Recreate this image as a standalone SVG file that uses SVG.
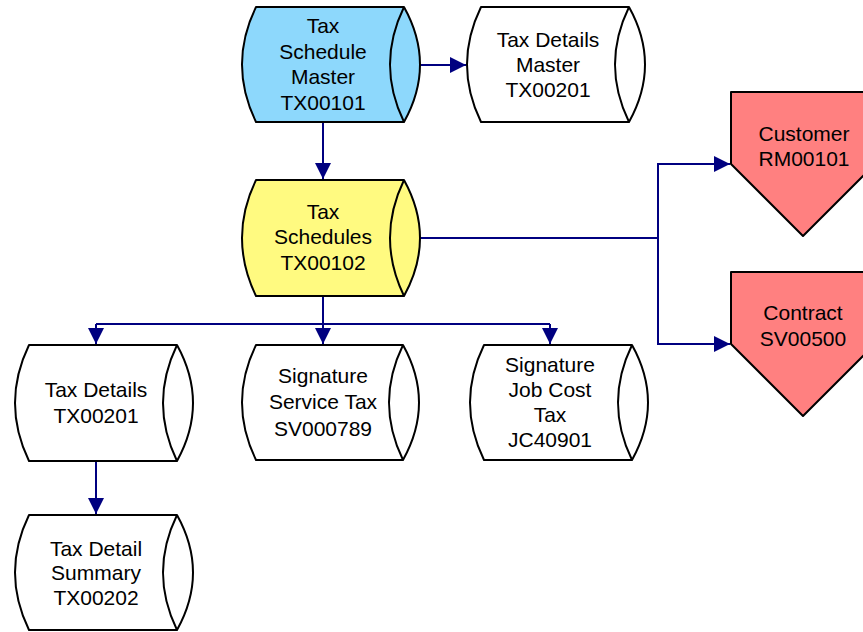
<svg xmlns="http://www.w3.org/2000/svg" width="863" height="632" viewBox="0 0 863 632">
<style>
.n{stroke:#000;stroke-width:2;stroke-linejoin:round}
.w{fill:#fff}
.b{fill:#8DD8FC}
.y{fill:#FFFA80}
.r{fill:#FF8080}
.in{fill:none;stroke:#000;stroke-width:2}
.t{font-family:"Liberation Sans",Arial,sans-serif;font-size:21px;fill:#000;text-anchor:middle}
.c{fill:none;stroke:#000080;stroke-width:2}
</style>
<defs>
<marker id="ah" markerUnits="userSpaceOnUse" markerWidth="16" markerHeight="16" viewBox="0 0 14 14" refX="14" refY="7" orient="auto">
<path d="M0,0 L14,7 L0,14 Z" fill="#000080"/>
</marker>
</defs>
<g id="connectors">
<path class="c" d="M420,65 H466" marker-end="url(#ah)"/>
<path class="c" d="M323,122 V179" marker-end="url(#ah)"/>
<path class="c" d="M323,296 V324"/>
<path class="c" d="M96,324 H550"/>
<path class="c" d="M96,324 V344" marker-end="url(#ah)"/>
<path class="c" d="M323,324 V344" marker-end="url(#ah)"/>
<path class="c" d="M550,324 V344" marker-end="url(#ah)"/>
<path class="c" d="M420,238 H658 V164 H730" marker-end="url(#ah)"/>
<path class="c" d="M658,238 V344 H730" marker-end="url(#ah)"/>
<path class="c" d="M96,461 V514" marker-end="url(#ah)"/>
</g>
<g id="taxScheduleMaster">
<path class="n b" d="M256,7 H404 Q436,64.5 404,122 H256 Q228,64.5 256,7 Z"/>
<path class="in" d="M404,7 Q376,64.5 404,122"/>
<text class="t"><tspan x="323" y="33">Tax</tspan><tspan x="323" y="59">Schedule</tspan><tspan x="323" y="84">Master</tspan><tspan x="323" y="110">TX00101</tspan></text>
</g>
<g id="taxDetailsMaster">
<path class="n w" d="M481,7 H629 Q661,64.5 629,122 H481 Q453,64.5 481,7 Z"/>
<path class="in" d="M629,7 Q601,64.5 629,122"/>
<text class="t"><tspan x="548" y="47">Tax Details</tspan><tspan x="548" y="72">Master</tspan><tspan x="548" y="97">TX00201</tspan></text>
</g>
<g id="taxSchedules">
<path class="n y" d="M256,180 H404 Q436,238 404,296 H256 Q228,238 256,180 Z"/>
<path class="in" d="M404,180 Q376,238 404,296"/>
<text class="t"><tspan x="323" y="219">Tax</tspan><tspan x="323" y="244">Schedules</tspan><tspan x="323" y="270">TX00102</tspan></text>
</g>
<g id="customer">
<polygon class="n r" points="731,92 875,92 875,164 803,236 731,164"/>
<text class="t"><tspan x="804" y="141">Customer</tspan><tspan x="804" y="166">RM00101</tspan></text>
</g>
<g id="contract">
<polygon class="n r" points="731,272 875,272 875,344 803,416 731,344"/>
<text class="t"><tspan x="803" y="320">Contract</tspan><tspan x="803" y="346">SV00500</tspan></text>
</g>
<g id="taxDetails">
<path class="n w" d="M29,345 H177 Q209,403 177,461 H29 Q1,403 29,345 Z"/>
<path class="in" d="M177,345 Q149,403 177,461"/>
<text class="t"><tspan x="96" y="397">Tax Details</tspan><tspan x="96" y="423">TX00201</tspan></text>
</g>
<g id="signatureServiceTax">
<path class="n w" d="M256,345 H403 Q435,402.5 403,460 H256 Q228,402.5 256,345 Z"/>
<path class="in" d="M403,345 Q375,402.5 403,460"/>
<text class="t"><tspan x="323" y="383">Signature</tspan><tspan x="323" y="409">Service Tax</tspan><tspan x="323" y="436">SV000789</tspan></text>
</g>
<g id="signatureJobCostTax">
<path class="n w" d="M484,345 H632 Q664,402.5 632,460 H484 Q456,402.5 484,345 Z"/>
<path class="in" d="M632,345 Q604,402.5 632,460"/>
<text class="t"><tspan x="550" y="372">Signature</tspan><tspan x="550" y="397">Job Cost</tspan><tspan x="550" y="422">Tax</tspan><tspan x="550" y="447">JC40901</tspan></text>
</g>
<g id="taxDetailSummary">
<path class="n w" d="M29,515 H177 Q209,572.5 177,630 H29 Q1,572.5 29,515 Z"/>
<path class="in" d="M177,515 Q149,572.5 177,630"/>
<text class="t"><tspan x="96" y="556">Tax Detail</tspan><tspan x="96" y="580">Summary</tspan><tspan x="96" y="605">TX00202</tspan></text>
</g>
</svg>
